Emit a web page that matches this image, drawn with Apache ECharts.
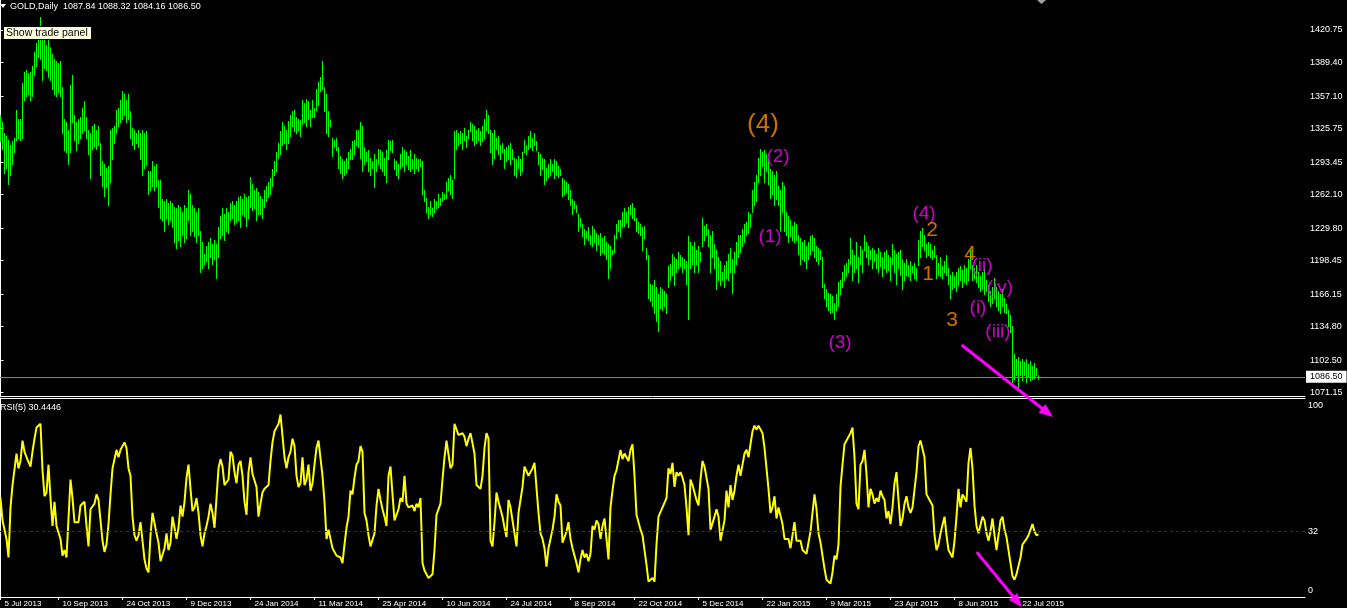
<!DOCTYPE html>
<html><head><meta charset="utf-8">
<script src="https://cdn.jsdelivr.net/npm/echarts@6/dist/echarts.min.js"></script>
<style>html,body{margin:0;padding:0;background:#000;overflow:hidden}#c{width:1347px;height:608px}</style>
</head><body><div id="c"></div>
<script>
// ---------------- DATA ----------------
const symbolName = 'GOLD,Daily';
const lastOHLC = [1087.84, 1088.32, 1084.16, 1086.50];
const rsiName = 'RSI(5)';
const rsiLast = 30.4446;
const rsiLevel = 32;

const barHigh = [
1339,1332,1321,1319,1315,1310,1314,1317,1344,1335,
1335,1370,1380,1382,1379,1380,1386,1400,1408,1411,
1433,1411,1411,1406,1411,1404,1398,1393,1391,1389,
1391,1366,1335,1332,1324,1368,1377,1339,1332,1335,
1337,1346,1352,1337,1324,1321,1328,1330,1324,1328,
1312,1294,1292,1288,1290,1324,1326,1328,1344,1346,
1353,1362,1359,1353,1359,1343,1326,1324,1321,1324,
1321,1324,1321,1323,1285,1285,1294,1290,1292,1276,
1276,1258,1256,1258,1254,1256,1254,1250,1249,1252,
1250,1245,1252,1249,1267,1263,1252,1249,1245,1249,
1227,1216,1205,1213,1216,1220,1214,1218,1214,1231,
1241,1249,1243,1249,1245,1254,1256,1252,1256,1260,
1261,1258,1263,1260,1261,1279,1272,1267,1268,1265,
1261,1258,1267,1270,1274,1278,1287,1294,1303,1312,
1323,1332,1328,1324,1333,1339,1343,1344,1337,1335,
1334,1353,1350,1354,1352,1344,1353,1346,1364,1371,
1375,1391,1366,1359,1343,1334,1317,1315,1317,1308,
1299,1296,1294,1297,1303,1306,1314,1315,1324,1324,
1332,1328,1308,1303,1305,1297,1294,1301,1296,1306,
1305,1303,1297,1305,1315,1314,1315,1296,1294,1292,
1301,1308,1305,1303,1299,1305,1296,1301,1297,1296,
1296,1294,1267,1259,1250,1256,1249,1258,1256,1263,
1259,1265,1263,1274,1278,1281,1276,1323,1324,1321,
1323,1321,1326,1319,1324,1332,1330,1328,1324,1326,
1323,1328,1335,1344,1339,1324,1321,1324,1317,1319,
1310,1312,1306,1308,1310,1312,1306,1297,1296,1299,
1296,1303,1315,1310,1319,1323,1317,1321,1314,1303,
1301,1297,1296,1288,1292,1296,1292,1296,1294,1290,
1287,1278,1276,1274,1272,1267,1258,1256,1252,1243,
1240,1234,1229,1227,1231,1223,1232,1229,1225,1223,
1225,1220,1222,1216,1214,1213,1209,1223,1234,1238,
1238,1245,1249,1245,1250,1252,1254,1249,1240,1236,
1234,1231,1232,1211,1204,1176,1175,1180,1173,1166,
1173,1171,1169,1166,1193,1195,1205,1202,1200,1207,
1204,1202,1200,1198,1222,1216,1213,1216,1209,1213,
1207,1240,1232,1234,1229,1223,1227,1214,1209,1202,
1198,1187,1194,1198,1205,1211,1200,1207,1216,1223,
1223,1229,1234,1236,1245,1243,1267,1274,1281,1297,
1306,1303,1305,1301,1296,1287,1285,1281,1285,1270,
1267,1274,1270,1245,1241,1238,1232,1236,1234,1223,
1220,1216,1218,1213,1216,1222,1223,1220,1213,1211,
1209,1202,1176,1171,1167,1166,1164,1158,1166,1178,
1180,1187,1194,1196,1200,1220,1209,1204,1216,1202,
1213,1209,1223,1216,1213,1209,1211,1209,1205,1211,
1207,1202,1207,1209,1204,1202,1214,1209,1205,1207,
1209,1200,1196,1200,1194,1198,1193,1196,1191,1218,
1227,1230,1223,1214,1216,1214,1209,1213,1204,1196,
1202,1193,1198,1204,1191,1185,1187,1184,1187,1191,
1193,1189,1194,1191,1200,1209,1194,1191,1194,1187,
1184,1187,1191,1180,1175,1169,1173,1182,1173,1169,
1166,1171,1162,1157,1151,1146,1135,1108,1104,1106,
1102,1104,1101,1104,1099,1102,1097,1100,1095,1088.32];

const barLow = [
1314,1306,1283,1288,1272,1281,1292,1303,1315,1317,
1315,1317,1353,1357,1359,1353,1357,1377,1386,1395,
1393,1373,1384,1382,1375,1373,1364,1359,1357,1361,
1357,1321,1305,1303,1292,1303,1332,1315,1305,1312,
1317,1321,1324,1317,1301,1278,1306,1308,1306,1310,
1281,1270,1261,1269,1252,1274,1296,1312,1321,1328,
1332,1335,1339,1332,1335,1317,1310,1306,1312,1308,
1296,1281,1288,1292,1263,1267,1270,1267,1270,1250,
1240,1238,1227,1240,1234,1238,1231,1216,1211,1218,
1213,1223,1216,1220,1238,1223,1227,1222,1216,1223,
1187,1191,1195,1198,1191,1202,1195,1200,1182,1202,
1220,1223,1218,1227,1225,1238,1240,1234,1236,1238,
1231,1243,1241,1232,1240,1250,1247,1249,1238,1243,
1243,1240,1250,1256,1260,1263,1270,1281,1285,1297,
1301,1310,1312,1306,1312,1319,1328,1323,1321,1324,
1319,1330,1332,1328,1335,1328,1337,1337,1344,1348,
1362,1364,1343,1321,1319,1328,1299,1308,1305,1288,
1283,1278,1281,1283,1288,1296,1296,1301,1310,1308,
1297,1285,1292,1294,1285,1281,1288,1269,1285,1292,
1288,1285,1281,1274,1296,1305,1303,1287,1281,1278,
1288,1290,1285,1292,1287,1285,1288,1283,1288,1285,
1290,1263,1256,1245,1240,1243,1241,1245,1249,1250,
1252,1256,1258,1259,1267,1263,1259,1278,1306,1310,
1312,1306,1315,1308,1317,1323,1315,1310,1312,1315,
1310,1314,1317,1324,1321,1303,1292,1297,1306,1301,
1296,1303,1288,1294,1296,1292,1296,1281,1279,1288,
1281,1285,1303,1301,1306,1308,1305,1310,1305,1292,
1281,1287,1272,1276,1279,1281,1285,1278,1281,1279,
1281,1261,1263,1265,1258,1252,1243,1249,1245,1227,
1232,1222,1214,1220,1218,1214,1213,1216,1209,1214,
1204,1207,1205,1200,1182,1191,1205,1207,1220,1227,
1222,1231,1232,1236,1231,1243,1240,1238,1227,1225,
1223,1209,1220,1200,1162,1160,1155,1148,1140,1131,
1153,1151,1155,1148,1173,1180,1185,1175,1187,1191,
1193,1187,1191,1176,1142,1191,1195,1187,1195,1187,
1198,1213,1218,1223,1213,1187,1202,1191,1171,1180,
1175,1180,1173,1182,1180,1187,1167,1187,1195,1202,
1207,1213,1216,1223,1225,1231,1245,1252,1256,1274,
1281,1290,1274,1285,1272,1259,1263,1252,1258,1252,
1227,1245,1227,1223,1216,1222,1218,1216,1218,1205,
1195,1200,1198,1191,1200,1205,1209,1202,1198,1195,
1200,1173,1162,1155,1151,1148,1149,1142,1151,1155,
1166,1173,1180,1184,1187,1195,1180,1187,1191,1178,
1195,1187,1209,1202,1195,1200,1191,1198,1191,1187,
1193,1184,1191,1187,1189,1180,1195,1187,1176,1191,
1185,1171,1180,1185,1184,1180,1187,1182,1180,1194,
1202,1213,1209,1202,1204,1202,1200,1202,1182,1185,
1184,1182,1187,1185,1176,1162,1171,1173,1169,1175,
1180,1173,1178,1176,1180,1191,1180,1182,1178,1173,
1169,1171,1166,1169,1160,1155,1158,1162,1155,1151,
1148,1155,1149,1148,1135,1130,1081,1084,1088,1077,
1088,1083,1088,1081,1086,1083,1084,1085,1088,1084.16];

const rsiValues = [
50,38,39,28,18,45,57,57,74,66,
70,81,75,72,72,67,75,82,88,88,
90,65,51,53,68,50,35,48,35,36,
28,19,22,18,18,60,50,37,37,37,
46,45,48,35,24,44,45,47,52,49,
38,27,21,25,36,52,66,65,76,72,
76,78,80,77,66,62,40,30,27,30,
37,27,17,12,10,30,42,42,31,26,
16,15,23,31,22,26,40,40,28,34,
46,40,48,61,68,55,43,45,50,42,
30,24,31,35,40,47,42,34,50,66,
71,67,57,56,60,75,73,64,58,68,
70,62,48,41,64,72,63,63,56,40,
47,53,55,56,57,70,80,86,86,90,
95,96,72,66,72,75,82,78,62,56,
58,72,57,60,68,54,58,68,77,81,
82,62,48,28,33,32,23,24,19,20,
18,15,25,34,40,54,52,61,68,70,
78,75,42,38,30,24,23,31,46,55,
49,44,40,35,62,67,52,38,38,44,
50,48,62,47,45,44,46,43,47,45,
50,15,11,9,7,8,9,22,41,40,
47,60,72,81,82,66,68,90,89,84,
85,85,83,78,82,85,84,74,57,57,
55,62,77,85,82,27,24,37,53,48,
47,40,34,29,49,45,38,31,24,42,
42,56,67,67,62,62,66,69,68,42,
31,28,23,13,23,22,33,40,52,48,
46,26,29,32,37,28,23,19,15,10,
17,22,18,20,16,20,35,33,38,36,
28,35,39,40,17,45,54,62,65,66,
76,71,74,74,70,76,79,62,41,37,
33,30,22,14,5,5,7,5,25,40,
40,45,44,50,66,63,69,56,64,62,
64,61,57,45,30,60,57,58,49,46,
60,70,67,66,55,33,34,40,44,40,
27,26,38,54,45,57,49,54,62,68,
62,68,74,76,72,79,86,89,87,89,
88,85,77,66,55,42,45,51,39,45,
45,36,28,27,28,23,30,37,27,27,
27,22,21,20,20,32,42,52,44,31,
26,19,12,6,5,4,10,19,17,25,
56,68,79,81,82,85,88,72,47,44,
68,70,76,63,45,55,52,47,50,48,
54,51,49,39,43,36,45,58,64,49,
35,39,47,51,45,42,45,44,64,78,
81,82,72,52,50,49,46,30,22,25,
31,31,40,30,22,22,18,27,40,55,
45,52,52,48,69,77,66,46,35,31,
30,40,38,31,27,32,39,30,22,30,
38,40,33,29,22,15,8,6,9,10,
18,25,25,28,30,33,36,32,30,30.4446];

const priceTickLabels = ['1420.75','1389.40','1357.10','1325.75','1293.45','1262.10','1229.80','1198.45','1166.15','1134.80','1102.50','1071.15'];
const rsiTickLabels = ['100','32','0'];
const dateLabels = ['5 Jul 2013','10 Sep 2013','24 Oct 2013','9 Dec 2013','24 Jan 2014','11 Mar 2014','25 Apr 2014','10 Jun 2014','24 Jul 2014','8 Sep 2014','22 Oct 2014','5 Dec 2014','22 Jan 2015','9 Mar 2015','23 Apr 2015','8 Jun 2015','22 Jul 2015'];
const dateLabelBars = [0,29,61,93,125,157,189,221,253,285,317,349,381,413,445,477,509];

// Elliott wave annotations: bar index, price, text, degree
const waveTexts  = ['(4)','(2)','(1)','(3)','(4)','2','1','4','3','(ii)','(i)','(iv)','(iii)'];
const waveBars   = [381.25,388.75,384.75,419.75,461.75,465.75,463.75,484.75,475.75,490.75,488.75,499.75,498.75];
const wavePrices = [1329.2,1298.3,1221.2,1119.0,1243.4,1227.9,1185.6,1204.8,1141.2,1193.3,1152.8,1172.1,1129.6];
const waveDegree = ['primary','intermediate','intermediate','intermediate','intermediate','minor','minor','minor','minor','minute','minute','minute','minute'];

// trend arrows [bar, value]
const priceArrow = [[480.6,1117.1],[526.25,1047.7]];
const rsiArrow   = [[488.1,20.9],[510.75,-8.8]];

// ---------------- CHART ----------------
const FONT = "'Liberation Sans', Arial, sans-serif";
const degreeStyle = {
  primary:      {color:'#ff8c00', size:26},
  intermediate: {color:'#ff00ff', size:19},
  minor:        {color:'#ff8c00', size:21},
  minute:       {color:'#ff00ff', size:19}
};
const X_MIN = -0.25, X_MAX = 652.25;
const priceTickValues = priceTickLabels.map(Number);
const rsiTickValues = rsiTickLabels.map(Number);

const barData = barHigh.map((h,i)=>[i,h,barLow[i]]);
const rsiData = rsiValues.map((v,i)=>[i,v]);

const chart = echarts.init(document.getElementById('c'), null, {renderer:'canvas'});
const white = '#ffffff';
const hiddenX = (grid,pos)=>({gridIndex:grid,type:'value',min:X_MIN,max:X_MAX,position:pos,
  axisLine:{show:true,onZero:false,lineStyle:{color:white,width:1}},axisTick:{show:false},axisLabel:{show:false},splitLine:{show:false}});

chart.setOption({
  backgroundColor:'#000000',
  animation:false,
  grid:[{left:0,top:0,width:1305,height:396},{left:0,top:398,width:1305,height:199}],
  xAxis:[
    hiddenX(0,'bottom'),
    hiddenX(1,'top'),
    {gridIndex:1,type:'value',min:X_MIN,max:X_MAX,position:'bottom',
     axisLine:{show:true,onZero:false,lineStyle:{color:white,width:1}},
     axisTick:{show:true,customValues:dateLabelBars,length:3,lineStyle:{color:white}},
     axisLabel:{show:true,customValues:dateLabelBars,color:white,fontSize:8,fontFamily:FONT,align:'left',margin:3,padding:[0,0,0,4],
       formatter:(v)=>{const k=dateLabelBars.indexOf(Math.round(v));return k>=0?dateLabels[k]:'';}},
     splitLine:{show:false}}
  ],
  yAxis:[
    {gridIndex:0,type:'value',position:'right',min:1067.95,max:1449.67,
     axisLine:{show:true,lineStyle:{color:white}},
     axisTick:{show:true,customValues:priceTickValues,length:3,lineStyle:{color:white}},
     axisLabel:{show:true,customValues:priceTickValues,color:white,fontSize:9,fontFamily:FONT,margin:5,
       formatter:(v)=>{let b='',d=1e9;priceTickLabels.forEach(l=>{const e=Math.abs(Number(l)-v);if(e<d){d=e;b=l;}});return b;}},
     splitLine:{show:false}},
    {gridIndex:1,type:'value',position:'right',min:-3.29,max:103.93,
     axisLine:{show:true,lineStyle:{color:white}},
     axisTick:{show:false},
     axisLabel:{show:true,customValues:rsiTickValues,color:white,fontSize:9,fontFamily:FONT,margin:3,
       formatter:(v)=>{let b='',d=1e9;rsiTickLabels.forEach(l=>{const e=Math.abs(Number(l)-v);if(e<d){d=e;b=l;}});return b;}},
     splitLine:{show:false}}
  ],
  series:[
    {type:'custom',xAxisIndex:0,yAxisIndex:0,data:barData,silent:true,encode:{x:0,y:[1,2]},
     renderItem:(params,api)=>{
       const a=api.coord([api.value(0),api.value(1)]);
       const b=api.coord([api.value(0),api.value(2)]);
       const px=Math.floor(a[0])+0.5;
       return {type:'line',shape:{x1:px,y1:Math.round(a[1]),x2:px,y2:Math.round(b[1])+1},style:{stroke:'#00ff00',lineWidth:1}};
     }},
    {type:'line',xAxisIndex:2,yAxisIndex:1,data:rsiData,symbol:'none',silent:true,
     lineStyle:{color:'#ffff00',width:2},itemStyle:{color:'#ffff00'},
     markLine:{silent:true,symbol:['none','none'],data:[{yAxis:rsiLevel}],label:{show:false},
       lineStyle:{color:'#1a1aff',width:1,type:[3,3]}}},
    {type:'scatter',xAxisIndex:0,yAxisIndex:0,symbol:'circle',symbolSize:1,silent:true,
     itemStyle:{color:'rgba(0,0,0,0)'},
     data:waveTexts.map((t,i)=>({value:[waveBars[i],wavePrices[i]],
       label:{show:true,position:'inside',formatter:t,color:degreeStyle[waveDegree[i]].color,
              fontSize:degreeStyle[waveDegree[i]].size,fontFamily:FONT}})),
     markLine:{silent:true,symbol:['none','none'],data:[{yAxis:lastOHLC[3]}],
       lineStyle:{color:'#778899',width:1,type:'solid'},
       label:{show:true,position:'end',distance:1,formatter:lastOHLC[3].toFixed(2),color:'#000',
              backgroundColor:'#ffffff',padding:[2,4,1,4],fontSize:9,fontFamily:FONT}}}
  ]
});

function arrowShapes(p0,p1,color,width,headLen,headHalf){
  const dx=p1[0]-p0[0],dy=p1[1]-p0[1],L=Math.hypot(dx,dy),ux=dx/L,uy=dy/L;
  const bx=p1[0]-ux*headLen,by=p1[1]-uy*headLen;
  return [
    {type:'line',z:100,silent:true,shape:{x1:p0[0],y1:p0[1],x2:bx+ux,y2:by+uy},style:{stroke:color,lineWidth:width}},
    {type:'polygon',z:100,silent:true,shape:{points:[[p1[0],p1[1]],[bx-uy*headHalf,by+ux*headHalf],[bx+uy*headHalf,by-ux*headHalf]]},style:{fill:color}}
  ];
}
const pA0=chart.convertToPixel({xAxisIndex:0,yAxisIndex:0},priceArrow[0]);
const pA1=chart.convertToPixel({xAxisIndex:0,yAxisIndex:0},priceArrow[1]);
const rA0=chart.convertToPixel({xAxisIndex:2,yAxisIndex:1},rsiArrow[0]);
const rA1=chart.convertToPixel({xAxisIndex:2,yAxisIndex:1},rsiArrow[1]);

const headerText = symbolName+'  '+lastOHLC.map(v=>v.toFixed(2)).join(' ');
const graphics = [
  {type:'polygon',z:90,silent:true,shape:{points:[[0,4],[6,4],[3,8]]},style:{fill:white}},
  {type:'polygon',z:90,silent:true,shape:{points:[[1037,0],[1046,0],[1041.5,4]]},style:{fill:'#a0a0a0'}},
  {type:'text',z:90,silent:true,x:10,y:2,style:{text:headerText,fill:white,fontSize:9,fontFamily:FONT,align:'left',verticalAlign:'top'}},
  {type:'rect',z:95,silent:true,shape:{x:3.5,y:26.5,width:88,height:13},style:{fill:'#ffffe1',stroke:'#000000',lineWidth:1}},
  {type:'text',z:96,silent:true,x:6,y:33.5,style:{text:'Show trade panel',fill:'#000000',fontSize:10.5,fontFamily:FONT,align:'left',verticalAlign:'middle'}},
  {type:'text',z:90,silent:true,x:0,y:403,style:{text:rsiName+' '+rsiLast.toFixed(4),fill:white,fontSize:9,fontFamily:FONT,align:'left',verticalAlign:'top'}}
].concat(arrowShapes(pA0,pA1,'#ff00ff',3,14,5.5), arrowShapes(rA0,rA1,'#ff00ff',3,14,5.5));
chart.setOption({graphic:graphics});
</script>
</body></html>
